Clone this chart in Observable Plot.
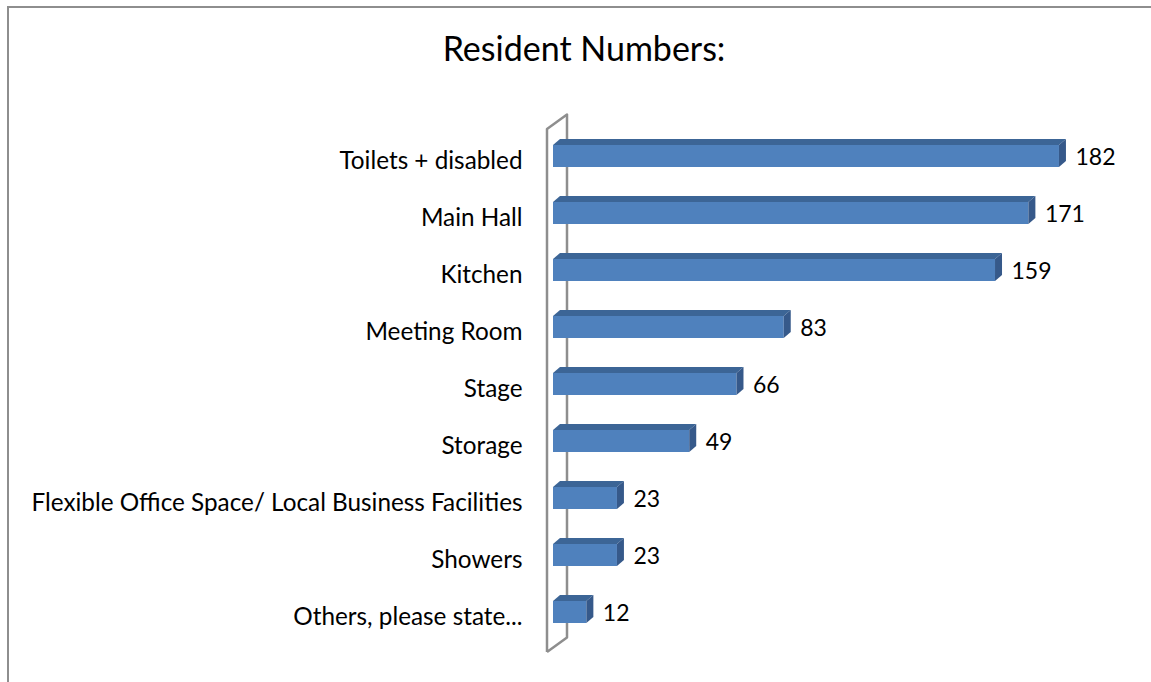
<!DOCTYPE html>
<html>
<head>
<meta charset="utf-8">
<script src="https://cdn.jsdelivr.net/npm/d3@7"></script>
<script src="https://cdn.jsdelivr.net/npm/@observablehq/plot@0.6"></script>
<style>
  html, body { margin: 0; padding: 0; background: #fff; overflow: hidden; }
  #wrap { position: relative; width: 1151px; height: 682px; overflow: hidden; font-family: Lato, "Open Sans", sans-serif; }
  #border { position: absolute; left: 7px; top: 6px; width: 1200px; height: 720px; border-left: 2px solid #8e8e8e; border-top: 2px solid #8e8e8e; box-sizing: border-box; }
  #title { position: absolute; left: 0; top: 31px; width: 1168px; text-align: center; font-size: 34px; line-height: 34px; color: #000; }
  #chart { position: absolute; left: 0; top: 88px; }
</style>
</head>
<body>
<div id="wrap">
  <div id="border"></div>
  <div id="title">Resident Numbers:</div>
  <div id="chart"></div>
</div>
<script>
const categories = [
  "Toilets + disabled",
  "Main Hall",
  "Kitchen",
  "Meeting Room",
  "Stage",
  "Storage",
  "Flexible Office Space/ Local Business Facilities",
  "Showers",
  "Others, please state..."
];
const values = [182, 171, 159, 83, 66, 49, 23, 23, 12];

const data = categories.map((c, i) => ({cat: c, value: values[i]}));

const DX = 7, DY = 6;          // 3D depth of bars
const WALL_DX = 20, WALL_DY = 14.5; // 3D depth of wall

function wall(index, scales, values, dim) {
  const x0 = scales.x(0) - 6;
  const top = dim.marginTop, bot = dim.height - dim.marginBottom;
  const g = d3.create("svg:g")
    .attr("fill", "none").attr("stroke", "#8e8e8e").attr("stroke-width", 2.5)
    .attr("stroke-linejoin", "round");
  g.append("path").attr("d",
    `M${x0},${bot}L${x0},${top}L${x0 + WALL_DX},${top - WALL_DY}L${x0 + WALL_DX},${bot - WALL_DY}L${x0},${bot}`);
  return g.node();
}

function faces(index, scales) {
  const {x, y} = scales;
  const bw = y.bandwidth ? y.bandwidth() : 22;
  const g = d3.create("svg:g");
  for (const d of data) {
    const x0 = x(0), x1 = x(d.value), yt = y(d.cat);
    g.append("path").attr("fill", "#3c6596")
      .attr("d", `M${x0},${yt}L${x1},${yt}L${x1 + DX},${yt - DY}L${x0 + DX},${yt - DY}Z`);
    g.append("path").attr("fill", "#36598a")
      .attr("d", `M${x1},${yt}L${x1 + DX},${yt - DY}L${x1 + DX},${yt + bw - DY}L${x1},${yt + bw}Z`);
  }
  return g.node();
}

const chart = Plot.plot({
  width: 1151,
  height: 594,
  marginLeft: 553,
  marginRight: 42,
  marginTop: 41,
  marginBottom: 30,
  style: {fontFamily: "Lato, 'Open Sans', sans-serif", color: "#000", background: "transparent"},
  x: {domain: [0, 200], axis: null},
  y: {domain: categories, paddingInner: 0.62, paddingOuter: 0.334, align: 0.363, label: null},
  marks: [
    wall,
    Plot.barX(data, {x: "value", y: "cat", fill: "#4f81bd"}),
    faces,
    Plot.text(data, {x: "value", y: "cat", text: d => String(d.value), textAnchor: "start", dx: 16, dy: 1.5, fontSize: 23, fill: "#000"}),
    Plot.axisY({tickSize: 0, tickPadding: 31, dy: 5, fontSize: 24.3, label: null, fill: "#000"})
  ]
});
document.getElementById("chart").appendChild(chart);
</script>
</body>
</html>
